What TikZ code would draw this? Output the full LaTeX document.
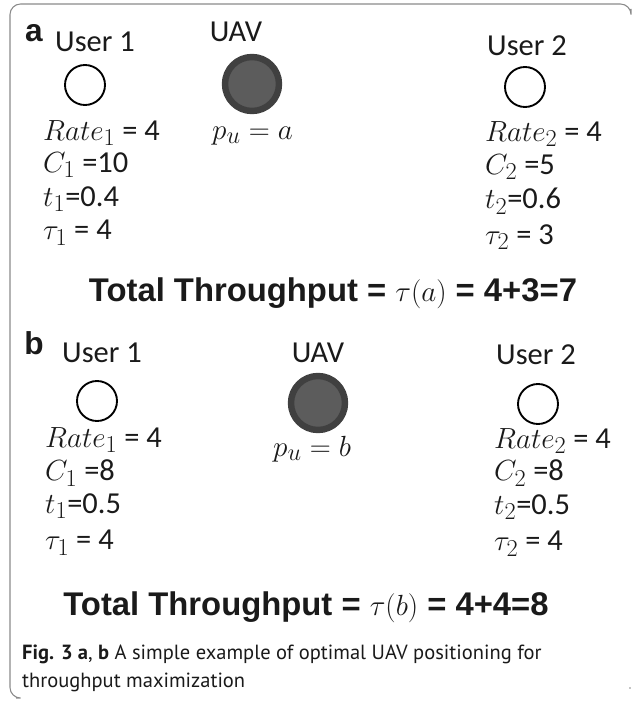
\documentclass[tikz,border=0pt]{standalone}
\usepackage{fontspec}
\setmainfont{Carlito}
\newfontfamily\labelsans{Liberation Sans}
\newfontfamily\capfont{PT Sans}
\usetikzlibrary{shapes.geometric}
\definecolor{framegray}{HTML}{8A8A8A}
\definecolor{uavring}{HTML}{404040}
\definecolor{uavfill}{HTML}{5C5C5C}
\definecolor{txt}{HTML}{1A1A1A}
% slightly larger math, as in the figure
\newcommand{\mathval}[1]{{\fontsize{28}{30}\selectfont$#1$}}
\newcommand{\mathbig}[1]{{\fontsize{30}{32}\selectfont$#1$}}

\begin{document}
\begin{tikzpicture}[x=0.03cm, y=-0.03cm,
  panellabel/.style={font=\labelsans\fontsize{27}{30}\selectfont\bfseries, text=txt, inner sep=0pt},
  nodelabel/.style={font=\fontsize{26}{30}\selectfont, text=txt, inner sep=0pt},
  param/.style={font=\fontsize{26}{30}\selectfont, text=txt, anchor=west, inner sep=0pt},
  user/.style={circle, draw=black, line width=1.6pt, minimum size=1.2cm, inner sep=0pt},
  uav/.style={circle, fill=uavfill, draw=uavring, line width=5.5pt,
              minimum size=1.62cm, inner sep=0pt},
  total/.style={font=\labelsans\fontsize{28}{32}\selectfont\bfseries, text=txt, inner sep=0pt},
  caption/.style={font=\capfont\fontsize{17.5}{24}\selectfont, text=txt, anchor=north west,
                  align=left, inner sep=0pt}
]
\useasboundingbox (0,0) rectangle (633,702);

% Frame
\draw[framegray, line width=0.9pt, rounded corners=9pt]
  (16,698) -- (10,698) -- (10,4) -- (631,4) -- (631,9);
\fill[framegray] (630,688) circle (0.8pt);

% Panel a
\node[panellabel] (a-label) at (34,33) {a};
\node[nodelabel] (a-user1) at (95,42) {User 1};
\node[nodelabel] (a-uavname) at (236,32) {UAV};
\node[nodelabel] (a-user2) at (527,46) {User 2};

\node[user] (a-u1) at (85,85) {};
\node[uav] (a-uav) at (252,84) {};
\node[user] (a-u2) at (525,87) {};

\node[param] (a-rate1) at (43,133) {\mathval{Rate_1} = 4};
\node[param] (a-c1) at (43,165) {\mathval{C_1} =10};
\node[param] (a-t1) at (43,199) {\mathval{t_1}=0.4};
\node[param] (a-tau1) at (43,233) {\mathval{\tau_1} = 4};

\node[param] (a-pu) at (212,136) {\mathval{p_u = a}};

\node[param] (a-rate2) at (485,134) {\mathval{Rate_2} = 4};
\node[param] (a-c2) at (485,167) {\mathval{C_2} =5};
\node[param] (a-t2) at (485,201) {\mathval{t_2}=0.6};
\node[param] (a-tau2) at (485,237) {\mathval{\tau_2} = 3};

\node[total] (a-total) at (333,293) {Total Throughput = \mathbig{\tau(a)} = 4+3=7};

% Panel b
\node[panellabel] (b-label) at (34,343) {b};
\node[nodelabel] (b-user1) at (102,353) {User 1};
\node[nodelabel] (b-uavname) at (318,353) {UAV};
\node[nodelabel] (b-user2) at (536,355) {User 2};

\node[user] (b-u1) at (97,401) {};
\node[uav] (b-uav) at (318,403) {};
\node[user] (b-u2) at (538,404) {};

\node[param] (b-rate1) at (45,440) {\mathval{Rate_1} = 4};
\node[param] (b-c1) at (45,473) {\mathval{C_1} =8};
\node[param] (b-t1) at (45,506) {\mathval{t_1}=0.5};
\node[param] (b-tau1) at (45,543) {\mathval{\tau_1} = 4};

\node[param] (b-pu) at (273,449) {\mathval{p_u = b}};

\node[param] (b-rate2) at (494,441) {\mathval{Rate_2} = 4};
\node[param] (b-c2) at (494,473) {\mathval{C_2} =8};
\node[param] (b-t2) at (494,507) {\mathval{t_2}=0.5};
\node[param] (b-tau2) at (494,544) {\mathval{\tau_2} = 4};

\node[total] (b-total) at (306,607) {Total Throughput = \mathbig{\tau(b)} = 4+4=8};

% Caption
\node[caption] (caption) at (22,645)
  {\textbf{Fig. 3 a}, \textbf{b} A simple example of optimal UAV positioning for\\
   throughput maximization};

\end{tikzpicture}
\end{document}
